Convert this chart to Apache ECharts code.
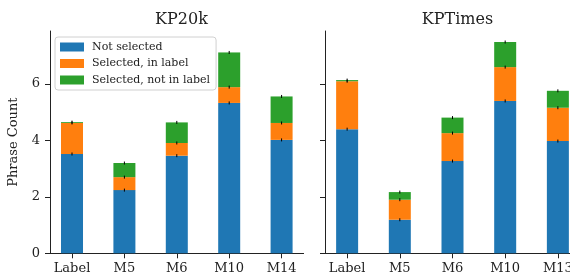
<!DOCTYPE html>
<html>
<head>
<meta charset="utf-8">
<script src="https://cdn.jsdelivr.net/npm/echarts@6/dist/echarts.min.js"></script>
<style>
    html, body { margin: 0; padding: 0; background: #fff; }
    #chart { width: 570px; height: 277px; }
</style>
</head>
<body>
<div id="chart"></div>
<script>
// categories per panel
const categoriesKP20k = ['Label', 'M5', 'M6', 'M10', 'M14'];
const categoriesKPTimes = ['Label', 'M5', 'M6', 'M10', 'M13'];

// stacked segments (phrase count)
const kp20kNotSelected = [3.52, 2.24, 3.46, 5.33, 4.02];
const kp20kInLabel = [1.10, 0.46, 0.45, 0.56, 0.60];
const kp20kNotInLabel = [0.03, 0.50, 0.73, 1.23, 0.94];

const kptimesNotSelected = [4.40, 1.19, 3.27, 5.40, 3.98];
const kptimesInLabel = [1.70, 0.71, 0.99, 1.20, 1.18];
const kptimesNotInLabel = [0.04, 0.27, 0.55, 0.89, 0.60];

const yTicks = [0, 2, 4, 6];
const seriesNames = ['Not selected', 'Selected, in label', 'Selected, not in label'];
const colors = ['#1f77b4', '#ff7f0e', '#2ca02c'];

const FONT = 'DejaVu Serif';
const BAR_W = 22;

// [index, bottom, top] for each segment of a stack
function segments(layers) {
    let out = layers.map(() => []);
    layers[0].forEach((_, i) => {
        let base = 0;
        layers.forEach((layer, k) => {
            out[k].push([i, base, base + layer[i]]);
            base += layer[i];
        });
    });
    return out;
}

function xAxisFor(idx, cats) {
    return {
        type: 'value',
        gridIndex: idx,
        min: -0.42,
        max: 4.42,
        splitLine: {show: false},
        axisLine: {onZero: false, lineStyle: {color: '#222', width: 1}},
        axisTick: {customValues: [0, 1, 2, 3, 4], length: 5, lineStyle: {color: '#222'}},
        axisLabel: {
            customValues: [0, 1, 2, 3, 4],
            formatter: v => cats[Math.round(v)],
            fontFamily: FONT, fontSize: 13, color: '#222', margin: 9
        }
    };
}

function yAxisFor(idx, showLabels) {
    return {
        type: 'value',
        gridIndex: idx,
        min: 0,
        max: 7.88,
        splitLine: {show: false},
        axisLine: {show: true, onZero: false, lineStyle: {color: '#222', width: 1}},
        axisTick: {show: true, customValues: yTicks, length: 5, lineStyle: {color: '#222'}},
        axisLabel: {
            show: showLabels,
            customValues: yTicks,
            fontFamily: FONT, fontSize: 13, color: '#222', margin: 10
        },
        name: showLabels ? 'Phrase Count' : '',
        nameLocation: 'middle',
        nameGap: 30,
        nameTextStyle: {fontFamily: FONT, fontSize: 13, color: '#222'}
    };
}

function barSeries(idx, name, data, color) {
    return {
        type: 'custom',
        name: name,
        xAxisIndex: idx,
        yAxisIndex: idx,
        itemStyle: {color: color},
        encode: {x: 0, y: [1, 2]},
        renderItem: function (params, api) {
            const lo = api.coord([api.value(0), api.value(1)]);
            const hi = api.coord([api.value(0), api.value(2)]);
            return {
                type: 'rect',
                shape: {x: lo[0] - BAR_W / 2, y: hi[1], width: BAR_W, height: lo[1] - hi[1]},
                style: {fill: color}
            };
        },
        data: data
    };
}

// small black caps at every segment top
function capSeries(idx, segs) {
    let data = [];
    segs.forEach(s => s.forEach(d => data.push([d[0], d[2]])));
    return {
        type: 'custom',
        xAxisIndex: idx,
        yAxisIndex: idx,
        silent: true,
        z: 5,
        renderItem: function (params, api) {
            const p = api.coord([api.value(0), api.value(1)]);
            return {
                type: 'line',
                shape: {x1: p[0], y1: p[1] - 1.5, x2: p[0], y2: p[1] + 1.5},
                style: {stroke: '#000', lineWidth: 1}
            };
        },
        data: data
    };
}

const segKP20k = segments([kp20kNotSelected, kp20kInLabel, kp20kNotInLabel]);
const segKPTimes = segments([kptimesNotSelected, kptimesInLabel, kptimesNotInLabel]);

let chart = echarts.init(document.getElementById('chart'));
let option = {
    animation: false,
    title: [
        {text: 'KP20k', left: 176.5, top: 7, textAlign: 'center',
            textStyle: {fontFamily: FONT, fontSize: 16, fontWeight: 'normal', color: '#222'}},
        {text: 'KPTimes', left: 452.5, top: 7, textAlign: 'center',
            textStyle: {fontFamily: FONT, fontSize: 16, fontWeight: 'normal', color: '#222'}}
    ],
    legend: {
        orient: 'vertical',
        left: 55,
        top: 37,
        data: seriesNames,
        icon: 'rect',
        itemWidth: 24,
        itemHeight: 9,
        itemGap: 4.5,
        padding: [4, 6, 4, 5],
        borderColor: '#d0d0d0',
        borderWidth: 1,
        borderRadius: 3,
        backgroundColor: 'rgba(255,255,255,0.85)',
        textStyle: {fontFamily: FONT, fontSize: 11, color: '#222', lineHeight: 12, padding: [0, 0, 0, 3]}
    },
    grid: [
        {left: 50, top: 31, width: 253.6, height: 222.3, outerBoundsMode: 'none'},
        {left: 325, top: 31, width: 255, height: 222.3, outerBoundsMode: 'none'}
    ],
    xAxis: [xAxisFor(0, categoriesKP20k), xAxisFor(1, categoriesKPTimes)],
    yAxis: [yAxisFor(0, true), yAxisFor(1, false)],
    series: [
        barSeries(0, seriesNames[0], segKP20k[0], colors[0]),
        barSeries(0, seriesNames[1], segKP20k[1], colors[1]),
        barSeries(0, seriesNames[2], segKP20k[2], colors[2]),
        barSeries(1, seriesNames[0], segKPTimes[0], colors[0]),
        barSeries(1, seriesNames[1], segKPTimes[1], colors[1]),
        barSeries(1, seriesNames[2], segKPTimes[2], colors[2]),
        capSeries(0, segKP20k),
        capSeries(1, segKPTimes)
    ]
};
chart.setOption(option);
</script>
</body>
</html>
